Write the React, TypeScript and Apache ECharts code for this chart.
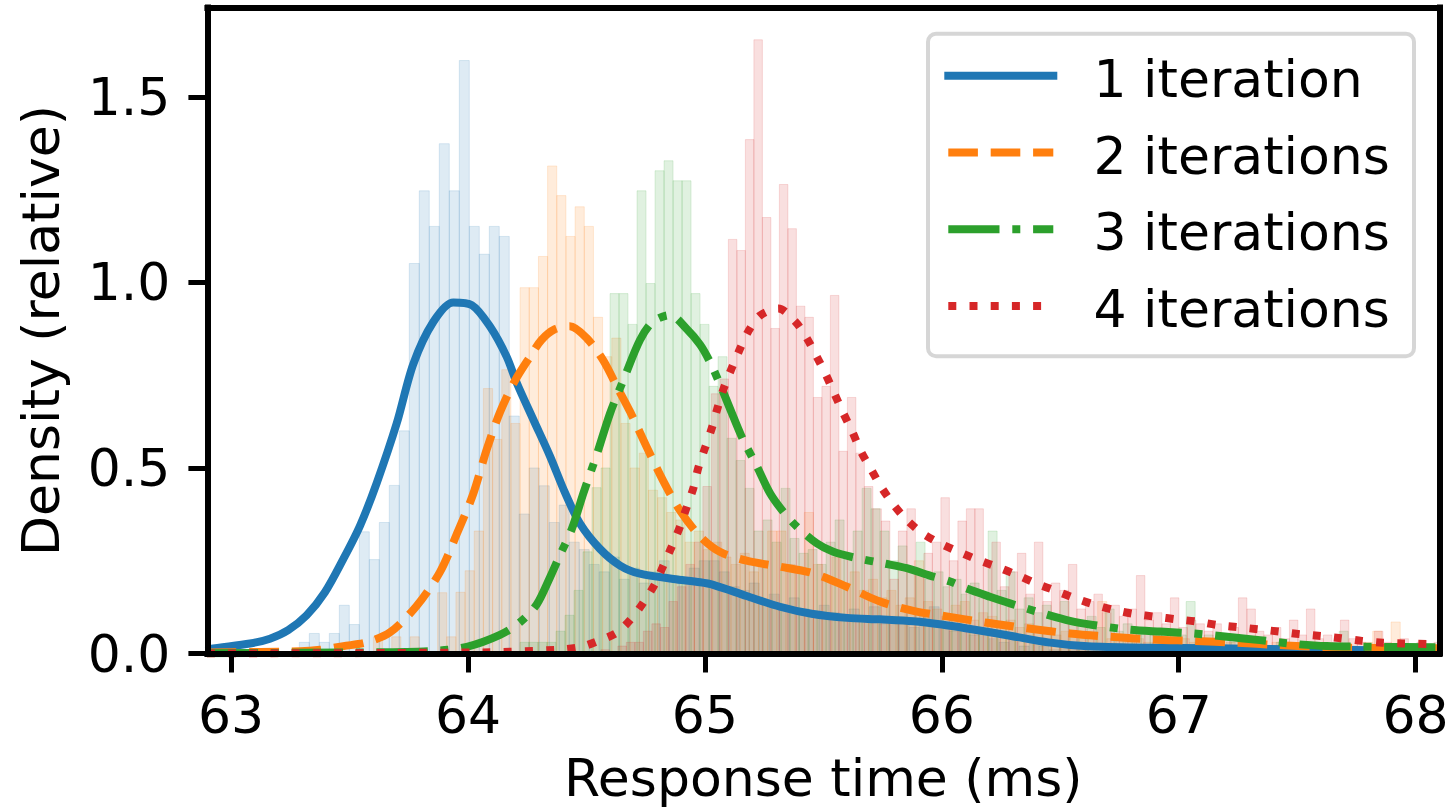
import React, { useEffect, useRef } from "react";
import * as echarts from "echarts";

// ---------- data ----------
const X_TICKS = [63, 64, 65, 66, 67, 68];
const Y_TICKS = [0, 0.5, 1.0, 1.5];
const X_MIN = 62.9;
const X_MAX = 68.1;
const Y_MIN = 0;
const Y_MAX = 1.741;
const X_LABEL = "Response time (ms)";
const Y_LABEL = "Density (relative)";
const SERIES_NAMES = ["1 iteration", "2 iterations", "3 iterations", "4 iterations"];

// histogram bins: start, bin width, heights
const HIST1_START = 63.288;
const HIST1_WIDTH = 0.0422;
const HIST1 = [
  0.03, 0.054, 0.03, 0.054, 0.13, 0.078, 0.328, 0.253, 0.353, 0.453,
  0.6, 1.051, 1.247, 1.151, 1.374, 1.247, 1.598, 1.151, 1.076, 1.151,
  1.124, 0.64, 0.376, 0.5, 0.452, 0.353, 0.4, 0.3, 0.28, 0.24,
  0.22, 0.26, 0.2, 0.23, 0.19, 0.22, 0.25, 0.21, 0.19, 0.23,
  0.25, 0.25, 0.22, 0.18, 0.17, 0.19, 0.14, 0.16, 0.13, 0.15,
  0.12, 0.1, 0.13, 0.11, 0.09, 0.12, 0.1, 0.126, 0.08, 0.1,
  0.09, 0.07, 0.1, 0.126, 0.08, 0.06, 0.07, 0.05, 0.06, 0.04,
  0.03, 0.04, 0.02, 0.03, 0.02, 0.01, 0.02, 0.01, 0.01, 0.0,
  0.01, 0.0, 0.01, 0.0, 0.0, 0.01, 0.0, 0.0, 0.0, 0.01,
  0.0, 0.0, 0.0, 0.0, 0.045,
];

const HIST2_START = 63.562;
const HIST2_WIDTH = 0.0387;
const HIST2 = [
  0.0, 0.045, 0.0, 0.045, 0.0, 0.045, 0.0, 0.0, 0.164, 0.045,
  0.165, 0.223, 0.33, 0.714, 0.577, 0.765, 0.62, 0.986, 0.986, 1.07,
  1.314, 1.234, 1.124, 1.204, 1.151, 0.906, 0.8, 0.85, 0.62, 0.5,
  0.54, 0.44, 0.42, 0.38, 0.36, 0.3, 0.33, 0.28, 0.3, 0.26,
  0.24, 0.27, 0.22, 0.25, 0.33, 0.33, 0.24, 0.22, 0.38, 0.24,
  0.2, 0.26, 0.19, 0.22, 0.17, 0.2, 0.15, 0.17, 0.13, 0.15,
  0.25, 0.14, 0.12, 0.1, 0.13, 0.14, 0.09, 0.11, 0.1, 0.08,
  0.09, 0.07, 0.08, 0.06, 0.07, 0.05, 0.06, 0.05, 0.04, 0.06,
  0.14, 0.04, 0.05, 0.03, 0.04, 0.03, 0.05, 0.03, 0.02, 0.04,
  0.03, 0.02, 0.03, 0.02, 0.03, 0.02, 0.04, 0.02, 0.01, 0.03,
  0.02, 0.01, 0.02, 0.03, 0.01, 0.02, 0.01, 0.02, 0.01, 0.03,
  0.06, 0.02, 0.085, 0.02, 0.01, 0.02, 0.01,
];

const HIST3_START = 64.2195;
const HIST3_WIDTH = 0.038;
const HIST3 = [
  0.03, 0.03, 0.03, 0.03, 0.06, 0.103, 0.17, 0.274, 0.447, 0.5,
  0.97, 0.97, 0.887, 1.247, 0.997, 1.301, 1.328, 1.274, 1.274, 0.97,
  0.887, 0.72, 0.8, 0.58, 0.52, 0.445, 0.33, 0.36, 0.3, 0.445,
  0.31, 0.27, 0.28, 0.24, 0.3, 0.36, 0.26, 0.33, 0.445, 0.39,
  0.33, 0.25, 0.29, 0.22, 0.3, 0.2, 0.22, 0.18, 0.2, 0.16,
  0.19, 0.15, 0.33, 0.17, 0.22, 0.12, 0.15, 0.11, 0.13, 0.1,
  0.14, 0.09, 0.08, 0.1, 0.07, 0.12, 0.06, 0.08, 0.05, 0.07,
  0.05, 0.06, 0.04, 0.05, 0.14, 0.04, 0.05, 0.03, 0.04, 0.03,
  0.02, 0.03, 0.02, 0.01, 0.03, 0.02, 0.01, 0.02, 0.01, 0.02,
  0.01, 0.06, 0.02, 0.01, 0.02, 0.01, 0.02, 0.01, 0.02, 0.01,
  0.02, 0.01,
];

const HIST4_START = 64.561;
const HIST4_WIDTH = 0.03588;
const HIST4 = [
  0.01, 0.0, 0.02, 0.03, 0.03, 0.06, 0.08, 0.07, 0.14, 0.18,
  0.24, 0.3, 0.45, 0.7, 0.74, 1.116, 1.086, 1.385, 1.654, 1.175,
  0.876, 1.264, 1.145, 0.936, 0.906, 0.69, 0.72, 0.965, 0.545, 0.69,
  0.54, 0.45, 0.39, 0.357, 0.2, 0.33, 0.39, 0.22, 0.27, 0.3,
  0.42, 0.25, 0.357, 0.39, 0.39, 0.24, 0.3, 0.18, 0.22, 0.27,
  0.16, 0.3, 0.14, 0.19, 0.17, 0.24, 0.12, 0.14, 0.16, 0.11,
  0.13, 0.1, 0.12, 0.21, 0.09, 0.11, 0.08, 0.15, 0.07, 0.09,
  0.08, 0.06, 0.08, 0.05, 0.07, 0.15, 0.12, 0.06, 0.05, 0.07,
  0.04, 0.09, 0.05, 0.12, 0.04, 0.05, 0.03, 0.09, 0.04, 0.03,
  0.02, 0.06, 0.03, 0.02, 0.04, 0.02, 0.03, 0.02, 0.03,
];

// smoothed density curves: [x, y]
const KDE1 = [
  [62.898, 0.008], [62.911, 0.012], [63.08, 0.027], [63.164, 0.04], [63.241, 0.063],
  [63.319, 0.103], [63.396, 0.165], [63.474, 0.255], [63.544, 0.344], [63.615, 0.46],
  [63.699, 0.62], [63.769, 0.78], [63.854, 0.894], [63.938, 0.946], [64.016, 0.939],
  [64.093, 0.881], [64.163, 0.8], [64.206, 0.729], [64.276, 0.63], [64.346, 0.532],
  [64.409, 0.434], [64.473, 0.35], [64.557, 0.282], [64.642, 0.237], [64.726, 0.215],
  [64.867, 0.201], [64.98, 0.192], [65.035, 0.185], [65.176, 0.155], [65.317, 0.126],
  [65.45, 0.107], [65.6, 0.096], [65.739, 0.092], [65.88, 0.087], [66.0, 0.078],
  [66.12, 0.066], [66.288, 0.048], [66.45, 0.03], [66.6, 0.02], [66.8, 0.016],
  [67.0, 0.015], [67.3, 0.013], [67.64, 0.01], [68.102, 0.008],
];
const KDE2 = [
  [62.898, 0.003], [63.291, 0.006], [63.376, 0.01], [63.474, 0.02], [63.572, 0.03],
  [63.671, 0.057], [63.783, 0.128], [63.882, 0.22], [63.958, 0.33], [64.022, 0.43],
  [64.079, 0.55], [64.135, 0.65], [64.198, 0.735], [64.262, 0.8], [64.31, 0.845],
  [64.367, 0.874], [64.43, 0.882], [64.501, 0.85], [64.571, 0.79], [64.628, 0.72],
  [64.684, 0.652], [64.754, 0.557], [64.824, 0.465], [64.895, 0.385], [64.979, 0.316],
  [65.063, 0.274], [65.176, 0.25], [65.317, 0.234], [65.458, 0.216], [65.599, 0.18],
  [65.739, 0.14], [65.88, 0.115], [66.021, 0.1], [66.19, 0.083], [66.358, 0.068],
  [66.541, 0.054], [66.71, 0.045], [66.892, 0.038], [67.06, 0.034], [67.245, 0.029],
  [67.414, 0.023], [67.625, 0.017], [67.836, 0.015], [68.102, 0.014],
];
const KDE3 = [
  [62.898, 0.001], [63.599, 0.003], [63.852, 0.007], [63.995, 0.018], [64.135, 0.05],
  [64.219, 0.084], [64.29, 0.132], [64.346, 0.205], [64.388, 0.265], [64.438, 0.335],
  [64.487, 0.432], [64.543, 0.535], [64.6, 0.648], [64.656, 0.737], [64.726, 0.845],
  [64.782, 0.895], [64.853, 0.912], [64.923, 0.875], [64.98, 0.832], [65.022, 0.785],
  [65.064, 0.725], [65.12, 0.638], [65.162, 0.575], [65.219, 0.505], [65.275, 0.432],
  [65.331, 0.382], [65.388, 0.342], [65.472, 0.297], [65.542, 0.274], [65.641, 0.257],
  [65.753, 0.243], [65.852, 0.23], [65.95, 0.21], [66.035, 0.194], [66.105, 0.175],
  [66.203, 0.153], [66.288, 0.135], [66.427, 0.108], [66.541, 0.088], [66.638, 0.077],
  [66.782, 0.065], [66.921, 0.059], [67.06, 0.054], [67.204, 0.045], [67.343, 0.036],
  [67.483, 0.026], [67.625, 0.02], [67.836, 0.018], [68.102, 0.017],
];
const KDE4 = [
  [62.898, 0.0], [64.063, 0.003], [64.374, 0.01], [64.473, 0.017], [64.543, 0.032],
  [64.628, 0.056], [64.684, 0.09], [64.74, 0.137], [64.789, 0.187], [64.824, 0.236],
  [64.86, 0.288], [64.895, 0.342], [64.923, 0.394], [64.951, 0.445], [64.972, 0.5],
  [65.0, 0.553], [65.029, 0.607], [65.053, 0.661], [65.078, 0.712], [65.11, 0.764],
  [65.146, 0.818], [65.183, 0.868], [65.233, 0.911], [65.31, 0.93], [65.382, 0.894],
  [65.43, 0.85], [65.472, 0.8], [65.511, 0.751], [65.549, 0.697], [65.584, 0.648],
  [65.622, 0.598], [65.659, 0.544], [65.701, 0.497], [65.746, 0.447], [65.795, 0.402],
  [65.852, 0.36], [65.918, 0.324], [65.992, 0.297], [66.075, 0.273], [66.154, 0.252],
  [66.239, 0.232], [66.316, 0.212], [66.398, 0.189], [66.481, 0.169], [66.562, 0.149],
  [66.647, 0.131], [66.731, 0.117], [66.816, 0.106], [66.904, 0.099], [66.993, 0.092],
  [67.077, 0.086], [67.162, 0.077], [67.251, 0.071], [67.339, 0.065], [67.425, 0.059],
  [67.513, 0.052], [67.6, 0.047], [67.686, 0.041], [67.773, 0.034], [67.862, 0.029],
  [67.946, 0.027], [68.102, 0.025],
];

// ---------- styles ----------
const FONT = '"DejaVu Sans", "Liberation Sans", sans-serif';
const FS = 52;
const LW = 8;
const COLORS = ["#1f77b4", "#ff7f0e", "#2ca02c", "#d62728"];
const HIST_FILLS = [
  "rgba(31,119,180,0.15)",
  "rgba(255,127,14,0.15)",
  "rgba(44,160,44,0.15)",
  "rgba(214,39,40,0.15)",
];
const DASHES: any[] = [
  "solid",
  [3.7 * LW, 1.6 * LW],
  [6.4 * LW, 1.6 * LW, 1 * LW, 1.6 * LW],
  [1 * LW, 1.65 * LW],
];

function binsToData(start: number, width: number, heights: number[]) {
  return heights.map((h, i) => [start + i * width, start + (i + 1) * width, h]);
}

function histSeries(data: number[][], fill: string) {
  return {
    type: "custom",
    data,
    encode: { x: [0, 1], y: 2 },
    clip: true,
    silent: true,
    z: 2,
    renderItem: (_params: any, api: any) => {
      const x0 = api.value(0);
      const x1 = api.value(1);
      const h = api.value(2);
      const pTop = api.coord([x0, h]);
      const pBot = api.coord([x1, 0]);
      return {
        type: "rect",
        shape: {
          x: pTop[0],
          y: pTop[1],
          width: pBot[0] - pTop[0],
          height: pBot[1] - pTop[1],
        },
        style: { fill, stroke: fill, lineWidth: 1 },
      };
    },
  };
}

function lineSeries(name: string, data: number[][], color: string, dash: any) {
  return {
    type: "line",
    name,
    data,
    symbol: "none",
    showSymbol: false,
    smooth: 0.3,
    clip: true,
    z: 3,
    lineStyle: { color, width: LW, type: dash, cap: "butt", join: "round" },
  };
}

const spine = { show: true, onZero: false, lineStyle: { color: "#000", width: 6, cap: "square" } };

function buildOption() {
  const hists = [
    binsToData(HIST1_START, HIST1_WIDTH, HIST1),
    binsToData(HIST2_START, HIST2_WIDTH, HIST2),
    binsToData(HIST3_START, HIST3_WIDTH, HIST3),
    binsToData(HIST4_START, HIST4_WIDTH, HIST4),
  ];
  const kdes = [KDE1, KDE2, KDE3, KDE4];

  // legend (drawn as graphic)
  const legendX1 = 948.3;
  const legendX2 = 1053.3;
  const legendY0 = 75.7;
  const legendStep = 76.8;
  const legendEls: any[] = [
    {
      type: "rect",
      z: 100,
      shape: { x: 928, y: 33.7, width: 486, height: 322.6, r: 8 },
      style: { fill: "rgba(255,255,255,0.8)", stroke: "rgba(204,204,204,0.8)", lineWidth: 4 },
    },
  ];
  SERIES_NAMES.forEach((name, i) => {
    const y = legendY0 + i * legendStep;
    legendEls.push({
      type: "line",
      z: 101,
      shape: { x1: legendX1, y1: y, x2: legendX2, y2: y },
      style: {
        stroke: COLORS[i],
        lineWidth: LW,
        lineDash: i === 0 ? null : DASHES[i],
        lineCap: i === 0 ? "square" : "butt",
      },
    });
    legendEls.push({
      type: "text",
      z: 101,
      x: 1093.5,
      y: y + 3,
      style: {
        text: name,
        fontSize: FS,
        fontFamily: FONT,
        fill: "#000",
        align: "left",
        verticalAlign: "middle",
      },
    });
  });

  return {
    animation: false,
    backgroundColor: "#fff",
    grid: {
      left: 207.4,
      right: 13.7,
      top: 7.5,
      bottom: 158.5,
      containLabel: false,
      outerBoundsMode: "none",
    },
    xAxis: [
      {
        type: "value",
        min: X_MIN,
        max: X_MAX,
        position: "bottom",
        z: 10,
        axisLine: spine,
        axisTick: { show: true, length: 19, customValues: X_TICKS, lineStyle: { color: "#000", width: 5 } },
        axisLabel: {
          customValues: X_TICKS,
          margin: 35,
          fontSize: FS,
          lineHeight: FS,
          fontFamily: FONT,
          color: "#000",
          formatter: (v: number) => String(v),
        },
        splitLine: { show: false },
        name: X_LABEL,
        nameLocation: "middle",
        nameGap: 124,
        nameTextStyle: { fontSize: FS, lineHeight: FS, fontFamily: FONT, color: "#000", verticalAlign: "middle" },
      },
      {
        type: "value",
        min: X_MIN,
        max: X_MAX,
        position: "top",
        z: 10,
        axisLine: spine,
        axisTick: { show: false },
        axisLabel: { show: false },
        splitLine: { show: false },
      },
    ],
    yAxis: [
      {
        type: "value",
        min: Y_MIN,
        max: Y_MAX,
        position: "left",
        z: 10,
        axisLine: spine,
        axisTick: { show: true, length: 19, customValues: Y_TICKS, lineStyle: { color: "#000", width: 5 } },
        axisLabel: {
          customValues: Y_TICKS,
          margin: 37,
          fontSize: FS,
          lineHeight: FS,
          fontFamily: FONT,
          color: "#000",
          formatter: (v: number) => v.toFixed(1),
        },
        splitLine: { show: false },
        name: Y_LABEL,
        nameLocation: "middle",
        nameRotate: 90,
        nameGap: 166,
        nameTextStyle: { fontSize: FS, lineHeight: FS, fontFamily: FONT, color: "#000", verticalAlign: "middle" },
      },
      {
        type: "value",
        min: Y_MIN,
        max: Y_MAX,
        position: "right",
        z: 10,
        axisLine: spine,
        axisTick: { show: false },
        axisLabel: { show: false },
        splitLine: { show: false },
      },
    ],
    series: [
      ...hists.map((d, i) => histSeries(d, HIST_FILLS[i])),
      ...kdes.map((d, i) => lineSeries(SERIES_NAMES[i], d, COLORS[i], DASHES[i])),
    ],
    graphic: legendEls,
  };
}

export default function App() {
  const ref = useRef<HTMLDivElement>(null);
  useEffect(() => {
    if (!ref.current) return;
    const chart = echarts.init(ref.current, null, { renderer: "svg" });
    chart.setOption(buildOption() as any);
    return () => chart.dispose();
  }, []);
  return (
    <div
      ref={ref}
      style={{ position: "fixed", left: 0, top: 0, width: 1453, height: 812, background: "#fff" }}
    />
  );
}
